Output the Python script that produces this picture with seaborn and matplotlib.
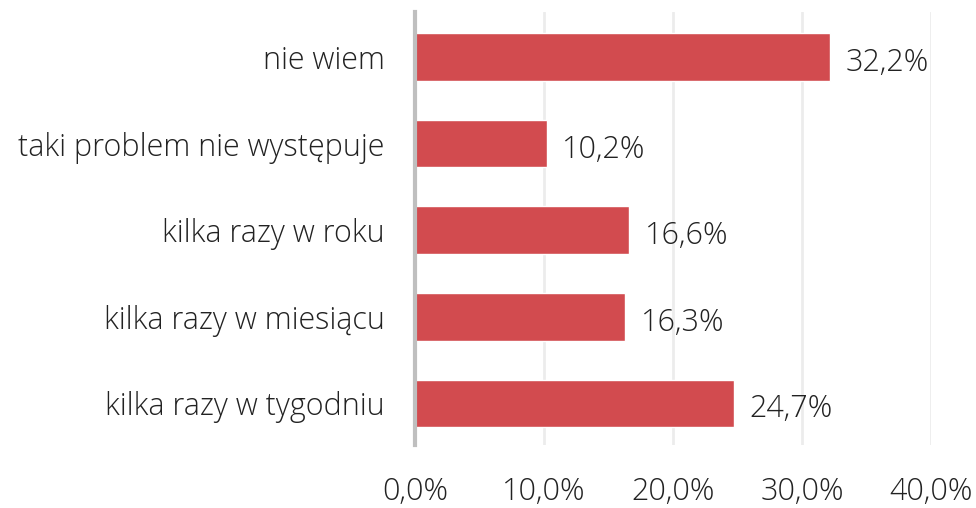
import matplotlib
matplotlib.use("Agg")
import matplotlib.pyplot as plt
import seaborn as sns
import pandas as pd

categories = ["nie wiem", "taki problem nie występuje", "kilka razy w roku",
              "kilka razy w miesiącu", "kilka razy w tygodniu"]
values = [32.2, 10.2, 16.6, 16.3, 24.7]
xticks = [0, 10, 20, 30, 40]
xtick_labels = ["0,0%", "10,0%", "20,0%", "30,0%", "40,0%"]

sns.set_style("white")
plt.rcParams['font.family'] = ['Open Sans', 'DejaVu Sans']
plt.rcParams['font.weight'] = 'light'

df = pd.DataFrame({"cat": categories, "val": values})

fig = plt.figure(figsize=(9.76, 5.08), dpi=100)
ax = fig.add_axes([415/976, 1 - 445/508, (931 - 415)/976, (445 - 12)/508])
sns.barplot(data=df, y="cat", x="val", orient="h", color="#d24b4f",
            width=0.55, ax=ax, saturation=1)
ax.set_xlim(0, 40)
ax.set_ylim(4.48, -0.52)
ax.set_xticks(xticks)
ax.set_xticklabels(xtick_labels, fontsize=22, color="#222222", fontweight='light')
ax.tick_params(axis='x', length=0, pad=22)
ax.tick_params(axis='y', length=0, pad=22, labelsize=22, labelcolor="#222222")
for lbl in ax.get_yticklabels():
    lbl.set_fontweight('light')
ax.set_xlabel("")
ax.set_ylabel("")
ax.xaxis.grid(True, color="#ececec", linewidth=2)
ax.set_axisbelow(True)
for s in ["top", "right", "bottom"]:
    ax.spines[s].set_visible(False)
ax.spines["left"].set_color("#bfbfbf")
ax.spines["left"].set_linewidth(3)
ax.spines["left"].set_zorder(5)

for i, v in enumerate(values):
    ax.text(v + 1.2, i + 0.07, f"{v:.1f}%".replace(".", ","), va="center", ha="left",
            fontsize=22, color="#222222", fontweight='light')

fig.savefig("out.png", dpi=100)
